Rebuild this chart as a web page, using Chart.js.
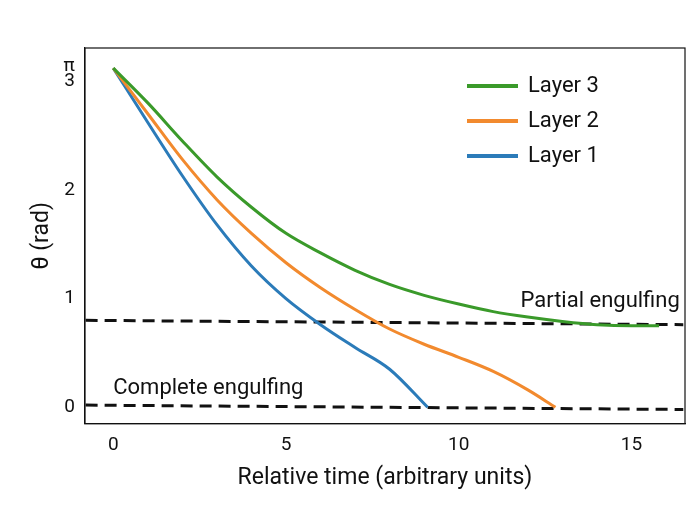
<!DOCTYPE html>
<html><head><script src="https://cdn.jsdelivr.net/npm/chart.js@4"></script>
<style>body{margin:0;background:#fff}#w{width:695px;height:506px}</style></head>
<body><div id="w"><canvas id="c"></canvas></div>
<script>
const layer1 = [[0,3.12],[1,2.62],[2,2.13],[3,1.68],[4,1.3],[5,1.0],[6,0.76],[7,0.55],[8,0.35],[9.1,0]];
const layer2 = [[0,3.12],[1,2.7],[2,2.28],[3,1.91],[4,1.6],[5,1.33],[6,1.1],[7,0.9],[8,0.72],[9,0.58],[10,0.46],[11,0.33],[12,0.16],[12.8,0]];
const layer3 = [[0,3.12],[1,2.8],[2,2.45],[3,2.12],[4,1.84],[5,1.6],[6,1.42],[7,1.26],[8,1.13],[9,1.03],[10,0.95],[11,0.88],[12,0.83],[13,0.79],[14,0.76],[15,0.75],[15.8,0.75]];
const partialLine = [[-0.8,0.8],[16.5,0.76]];
const completeLine = [[-0.8,0.02],[16.5,-0.02]];
const yTicks = [0,1,2,3,Math.PI];
const xTicks = [0,5,10,15];
const toPts = a => a.map(p=>({x:p[0],y:p[1]}));
const ds = (l,d,c,dash)=>({label:l,data:toPts(d),borderColor:c,borderWidth:3,pointRadius:0,borderDash:dash||[],cubicInterpolationMode:'monotone',fill:false});
const F='"Roboto", sans-serif';
const labels={id:'lab',afterDraw(ch){const c=ch.ctx,x=ch.scales.x,y=ch.scales.y,a=ch.chartArea;c.save();
c.strokeStyle='#111';c.lineWidth=1.2;c.strokeRect(a.left,a.top,a.right-a.left,a.bottom-a.top);
c.font='22px '+F;c.fillStyle='#111';
c.textBaseline='alphabetic';c.textAlign='right';c.fillText('Partial engulfing',x.getPixelForValue(16.4),y.getPixelForValue(0.92));
c.textAlign='left';c.fillText('Complete engulfing',x.getPixelForValue(0),y.getPixelForValue(0.12));
const L=[['Layer 3','#3a9a2a'],['Layer 2','#f28a2e'],['Layer 1','#2b7bb9']];
L.forEach((l,i)=>{const yy=86+i*35;c.strokeStyle=l[1];c.lineWidth=4;c.beginPath();c.moveTo(467,yy);c.lineTo(518,yy);c.stroke();c.fillStyle='#111';c.textBaseline='middle';c.fillText(l[0],528,yy);});
c.restore();}};
new Chart(document.getElementById('c'),{type:'line',
data:{datasets:[ds('Layer 3',layer3,'#3a9a2a'),ds('Layer 2',layer2,'#f28a2e'),ds('Layer 1',layer1,'#2b7bb9'),
ds('p',partialLine,'#111',[12,7]),ds('c',completeLine,'#111',[12,7])]},
options:{responsive:true,maintainAspectRatio:false,animation:false,layout:{padding:{top:48,right:10,left:24,bottom:10}},
plugins:{legend:{display:false},tooltip:{enabled:false}},
scales:{x:{type:'linear',min:-0.82,max:16.55,afterBuildTicks:s=>{s.ticks=xTicks.map(v=>({value:v}))},
grid:{display:false,drawTicks:true,tickLength:6,tickColor:'#111'},border:{color:'#111',width:1.2},
ticks:{color:'#111',font:{size:19,family:F},padding:4},
title:{display:true,text:'Relative time (arbitrary units)',color:'#111',font:{size:23,family:F}}},
y:{min:-0.15,max:3.305,afterBuildTicks:s=>{s.ticks=yTicks.map(v=>({value:v}))},
grid:{display:false,tickLength:6,tickColor:'#111'},border:{color:'#111',width:1.2},
ticks:{color:'#111',font:{size:19,family:F},padding:4,callback:v=>Math.abs(v-Math.PI)<1e-6?'π':v},
title:{display:true,text:'θ (rad)',color:'#111',font:{size:23,family:F}}}}},
plugins:[labels]});
</script></body></html>
